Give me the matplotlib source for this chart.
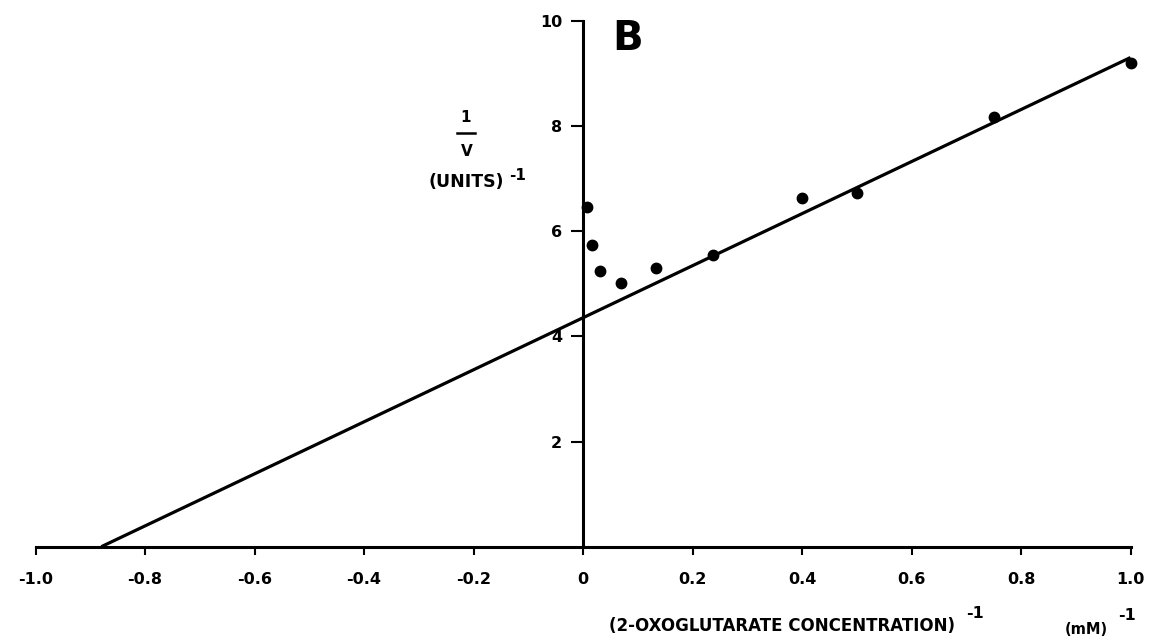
import matplotlib
matplotlib.use("Agg")
import matplotlib.pyplot as plt

# Lineweaver-Burk plot: reciprocal substrate concentration vs reciprocal velocity
inv_conc = [0.008, 0.016, 0.031, 0.07, 0.133, 0.238, 0.40, 0.50, 0.75, 1.0]
inv_velocity = [6.46, 5.74, 5.25, 5.02, 5.29, 5.55, 6.63, 6.73, 8.17, 9.19]

# fitted straight line, from the x-intercept to the last point
fit_x = [-0.88, 1.0]
fit_y = [0.0, 9.3]

x_ticks = [-1.0, -0.8, -0.6, -0.4, -0.2, 0.0, 0.2, 0.4, 0.6, 0.8, 1.0]
x_tick_labels = ["-1.0", "-0.8", "-0.6", "-0.4", "-0.2", "0", "0.2", "0.4", "0.6", "0.8", "1.0"]
y_ticks = [2, 4, 6, 8, 10]
y_tick_labels = ["2", "4", "6", "8", "10"]

plt.rcParams["font.family"] = ["DejaVu Sans"]
plt.rcParams["font.weight"] = "bold"

W, H = 1153, 644
fig = plt.figure(figsize=(W / 100, H / 100), dpi=100)
fig.patch.set_facecolor("white")

def fx(px):
    return px / W

def fy(py):
    return 1 - py / H

left_px, right_px = 35.6, 1130.5
top_px, bottom_px = 20.7, 546.7
ax = fig.add_axes([fx(left_px), fy(bottom_px), (right_px - left_px) / W, (bottom_px - top_px) / H])
ax.set_xlim(-1.0, 1.0)
ax.set_ylim(0, 10)
ax.patch.set_alpha(0)

for side in ("top", "right"):
    ax.spines[side].set_visible(False)
ax.spines["left"].set_position(("data", 0))
ax.spines["left"].set_bounds(0, 10)
ax.spines["bottom"].set_position(("data", 0))
for side in ("left", "bottom"):
    ax.spines[side].set_linewidth(2.2)
    ax.spines[side].set_color("black")
    ax.spines[side].set_zorder(2)

ax.set_xticks(x_ticks)
ax.set_xticklabels(x_tick_labels, fontsize=11.5, fontweight="bold")
ax.set_yticks(y_ticks)
ax.set_yticklabels(y_tick_labels, fontsize=11.5, fontweight="bold")
ax.tick_params(axis="x", direction="out", length=6, width=1.5, pad=12)
ax.tick_params(axis="y", direction="out", length=9, width=1.5, pad=6)

ax.plot(fit_x, fit_y, color="black", lw=2.3, solid_capstyle="butt", zorder=3, clip_on=False)
ax.plot(inv_conc, inv_velocity, "o", color="black", markersize=7.5, zorder=4, clip_on=False)

# panel letter
fig.text(fx(628), fy(39), "B", fontsize=29, fontweight="bold", ha="center", va="center")

# y-axis label: 1 / V  (UNITS)^-1
fig.text(fx(466), fy(118), "1", fontsize=11, fontweight="bold", ha="center", va="center")
fig.add_artist(plt.Line2D([fx(457), fx(475)], [fy(133), fy(133)], color="black", lw=1.8))
fig.text(fx(467), fy(151), "V", fontsize=11, fontweight="bold", ha="center", va="center")
fig.text(fx(428), fy(182), "(UNITS)", fontsize=12.5, fontweight="bold", ha="left", va="center")
fig.text(fx(509), fy(175), "-1", fontsize=11, fontweight="bold", ha="left", va="center")

# x-axis label
fig.text(fx(609), fy(626), "(2-OXOGLUTARATE CONCENTRATION)", fontsize=12, fontweight="bold",
         ha="left", va="center")
fig.text(fx(966), fy(613), "-1", fontsize=11.5, fontweight="bold", ha="left", va="center")
fig.text(fx(1065), fy(629), "(mM)", fontsize=10.5, fontweight="bold", ha="left", va="center")
fig.text(fx(1118), fy(615), "-1", fontsize=11.5, fontweight="bold", ha="left", va="center")

fig.savefig("out.png", dpi=100, facecolor="white")
